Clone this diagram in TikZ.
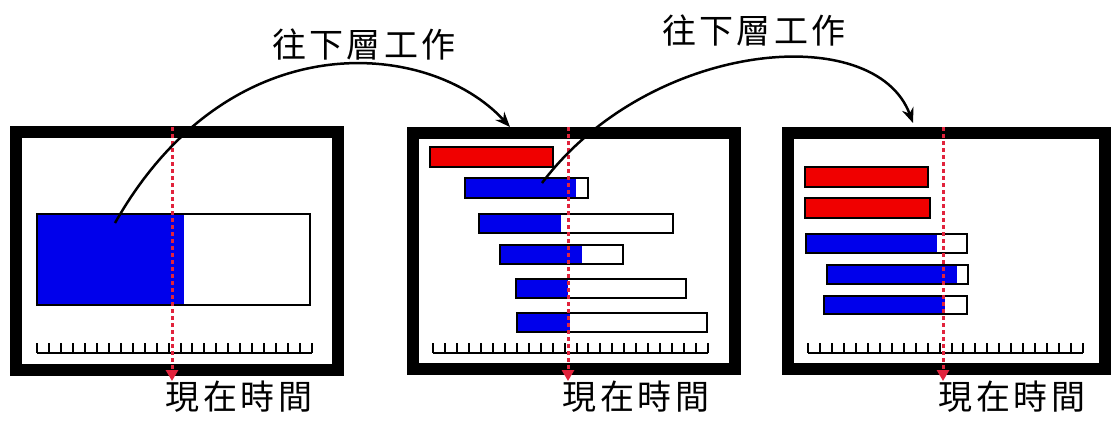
\documentclass[tikz,border=0pt]{standalone}
\usepackage{fontspec}
\newfontfamily\cjk[LetterSpace=10]{Noto Sans CJK TC}
\usetikzlibrary{arrows.meta}
\definecolor{jobblue}{RGB}{0,0,235}
\definecolor{jobred}{RGB}{240,0,0}
\definecolor{nowred}{RGB}{225,35,60}

\begin{document}
\begin{tikzpicture}[x=1pt,y=-1pt,
  frame/.style={line width=12pt},
  bar/.style={draw=black,line width=2pt},
  ruler/.style={line width=2pt},
  nowline/.style={nowred,line width=3pt,dash pattern=on 4pt off 3pt,
    -{Triangle[length=11pt,width=12pt]}},
  lbl/.style={font=\cjk\fontsize{34}{34}\selectfont,inner sep=0pt},
  hop/.style={line width=2.5pt,-{Stealth[length=15pt,width=12pt]}}]
\useasboundingbox (0,0) rectangle (1111,423);

%% panel 1
\draw[frame] (16,132) rectangle (338,370);
\fill[jobblue] (37,214) rectangle (184,305);
\draw[bar] (37,214) rectangle (310,305);
\draw[ruler] (37,353) -- (312,353);
\foreach \i in {0,...,23} \draw[ruler] (37+\i*11.96,343) -- ++(0,10);
\node[lbl] (now1) at (239,397) {現在時間};
\coordinate (t1) at (172,127);
\draw[nowline] (t1) -- (t1 |- now1.north);

%% panel 2
\draw[frame] (413,133) rectangle (735,369);
\fill[jobred] (430,147) rectangle (553,167);
\draw[bar] (430,147) rectangle (553,167);
\fill[jobblue] (465,178) rectangle (576,198);
\draw[bar] (465,178) rectangle (588,198);
\fill[jobblue] (479,214) rectangle (561,233);
\draw[bar] (479,214) rectangle (673,233);
\fill[jobblue] (500,245) rectangle (582,264);
\draw[bar] (500,245) rectangle (623,264);
\fill[jobblue] (516,279) rectangle (568,298);
\draw[bar] (516,279) rectangle (686,298);
\fill[jobblue] (517,313) rectangle (570,332);
\draw[bar] (517,313) rectangle (707,332);
\draw[ruler] (433,353) -- (708,353);
\foreach \i in {0,...,23} \draw[ruler] (433+\i*11.96,343) -- ++(0,10);
\node[lbl] (now2) at (636,397) {現在時間};
\coordinate (t2) at (568,127);
\draw[nowline] (t2) -- (t2 |- now2.north);

%% panel 3
\draw[frame] (788,133) rectangle (1105,369);
\fill[jobred] (805,167) rectangle (928,187);
\draw[bar] (805,167) rectangle (928,187);
\fill[jobred] (805,198) rectangle (930,218);
\draw[bar] (805,198) rectangle (930,218);
\fill[jobblue] (806,234) rectangle (937,253);
\draw[bar] (806,234) rectangle (967,253);
\fill[jobblue] (827,265) rectangle (957,284);
\draw[bar] (827,265) rectangle (968,284);
\fill[jobblue] (824,296) rectangle (945,314);
\draw[bar] (824,296) rectangle (967,314);
\draw[ruler] (808,353) -- (1083,353);
\foreach \i in {0,...,23} \draw[ruler] (808+\i*11.96,343) -- ++(0,10);
\node[lbl] (now3) at (1012,397) {現在時間};
\coordinate (t3) at (943,127);
\draw[nowline] (t3) -- (t3 |- now3.north);

%% hops to the lower layer
\node[lbl] (down1) at (364,45) {往下層工作};
\coordinate (job1) at (115,223);
\coordinate (in2) at (510,127);
\draw[hop] (job1) .. controls (230,20) and (430,40) .. (in2);
\node[lbl] (down2) at (754,31) {往下層工作};
\coordinate (job2) at (542,183);
\coordinate (in3) at (913,123);
\draw[hop] (job2) .. controls (650,40) and (875,20) .. (in3);

\end{tikzpicture}
\end{document}
